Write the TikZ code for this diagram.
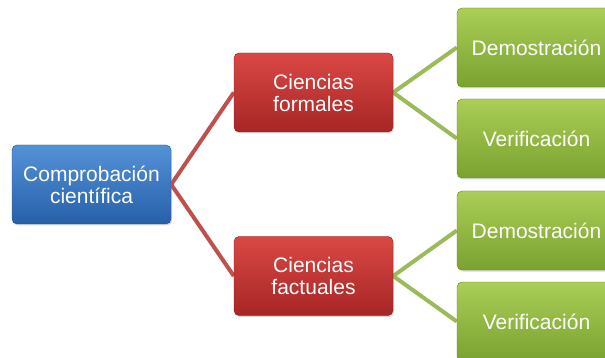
\documentclass[tikz,border=0pt]{standalone}
\usepackage{fontspec}
\setmainfont{Liberation Sans}
\usetikzlibrary{shadows,backgrounds}
\definecolor{bluetop}{RGB}{84,146,214}
\definecolor{bluebot}{RGB}{38,96,170}
\definecolor{redtop}{RGB}{218,72,68}
\definecolor{redbot}{RGB}{166,38,38}
\definecolor{greentop}{RGB}{170,206,86}
\definecolor{greenbot}{RGB}{122,162,48}
\definecolor{redline}{RGB}{192,80,77}
\definecolor{greenline}{RGB}{155,187,89}

\begin{document}
\begin{tikzpicture}[x=1pt,y=-1pt,
  box/.style={rounded corners=5pt,minimum width=159pt,minimum height=79pt,
    text=white,align=center,font=\fontsize{21}{22}\selectfont,
    drop shadow={opacity=0.3,shadow xshift=1pt,shadow yshift=-1.5pt}},
  sciencebox/.style={box,top color=bluetop,bottom color=bluebot,draw=bluebot!80!black,thin},
  branchbox/.style={box,top color=redtop,bottom color=redbot,draw=redbot!80!black,thin},
  leafbox/.style={box,top color=greentop,bottom color=greenbot,draw=greenbot!80!black,thin},
  redlink/.style={redline,line width=4pt},
  greenlink/.style={greenline,line width=4pt}]
  \clip (0,0) rectangle (605,358);

  % root
  \node[sciencebox] (sci) at (91.5,184.5) {Comprobación\\científica};
  % branches
  \node[branchbox] (formal) at (313.5,92.5) {Ciencias\\formales};
  \node[branchbox] (factual) at (313.5,276) {Ciencias\\factuales};
  % leaves
  \node[leafbox] (fdemo) at (536.5,47.5) {Demostración};
  \node[leafbox] (fverif) at (536.5,138.5) {Verificación};
  \node[leafbox] (xdemo) at (536.5,230.5) {Demostración};
  \node[leafbox] (xverif) at (536.5,321.5) {Verificación};

  \begin{pgfonlayer}{background}
    \draw[redlink] (sci.east) -- (formal.west);
    \draw[redlink] (sci.east) -- (factual.west);
    \draw[greenlink] (formal.east) -- (fdemo.west);
    \draw[greenlink] (formal.east) -- (fverif.west);
    \draw[greenlink] (factual.east) -- (xdemo.west);
    \draw[greenlink] (factual.east) -- (xverif.west);
  \end{pgfonlayer}
\end{tikzpicture}
\end{document}
